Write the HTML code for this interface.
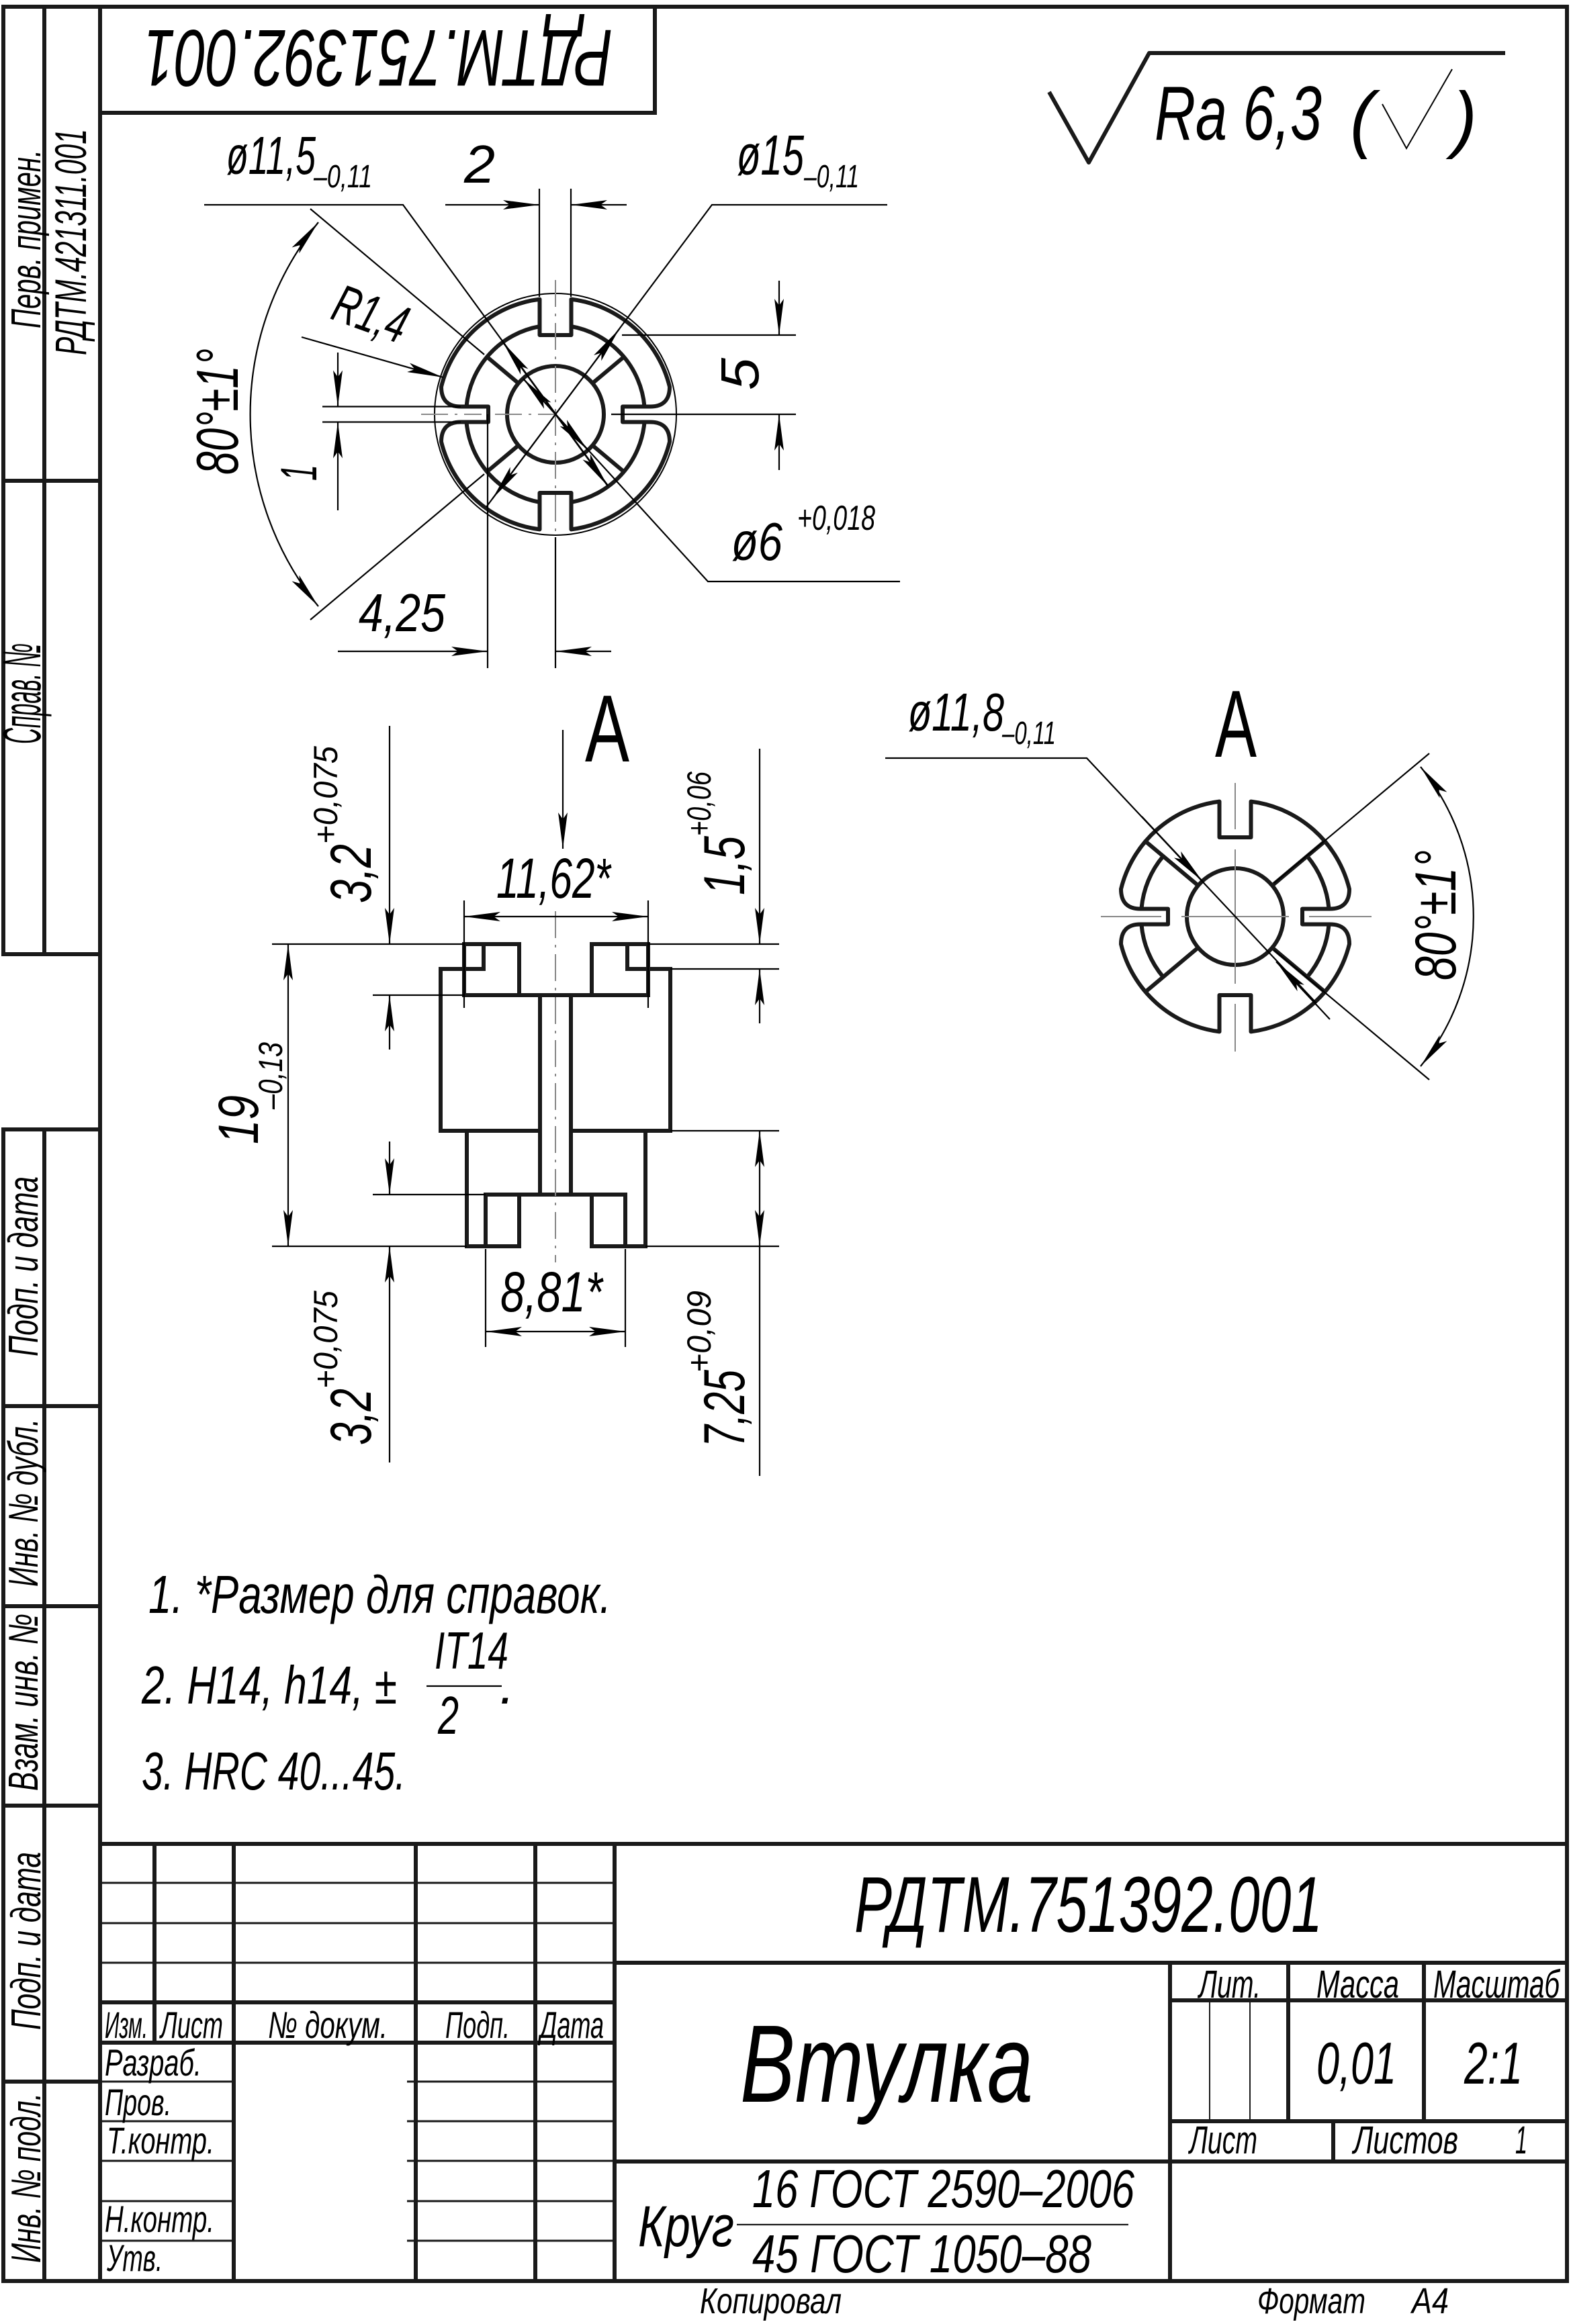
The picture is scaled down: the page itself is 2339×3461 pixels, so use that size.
<!DOCTYPE html>
<html><head><meta charset="utf-8"><style>
html,body{margin:0;padding:0;background:#fff}
svg{display:block}
text{font-family:"Liberation Sans","DejaVu Sans",sans-serif;font-style:italic;fill:#000}
.up{font-style:normal}
</style></head><body>
<svg xmlns="http://www.w3.org/2000/svg" width="2339" height="3461" viewBox="0 0 2339 3461">
<defs>
<marker id="ar" markerUnits="userSpaceOnUse" markerWidth="56" markerHeight="18" refX="54" refY="9" orient="auto-start-reverse">
<path d="M0,2 L54,9 L0,16 L10,9 Z" fill="#000"/>
</marker>
<g id="outer">
<path d="M23.5,-171.4 A173 173 0 0 1 170,-41 Q170,-11.5 141,-11.5 L100,-11.5 L100,11.5 L141,11.5 Q170,11.5 170,41 A173 173 0 0 1 23.5,171.4 L23.5,117 L-23.5,117 L-23.5,171.4 A173 173 0 0 1 -170,41 Q-170,11.5 -141,11.5 L-100,11.5 L-100,-11.5 L-141,-11.5 Q-170,-11.5 -170,-41 A173 173 0 0 1 -23.5,-171.4 L-23.5,-118 L23.5,-118 Z" fill="none" stroke="#1a1a1a" stroke-width="6" stroke-linejoin="round"/>
<circle cx="0" cy="0" r="72" fill="none" stroke="#1a1a1a" stroke-width="6"/>
</g>
</defs>

<g stroke="#1a1a1a" stroke-width="6" fill="none" stroke-linecap="square">
<line x1="149" y1="10" x2="2333" y2="10"/>
<line x1="2333" y1="10" x2="2333" y2="3397"/>
<line x1="5" y1="3397" x2="2333" y2="3397"/>
<line x1="149" y1="10" x2="149" y2="3397"/>
<line x1="5" y1="10" x2="149" y2="10"/>
<line x1="5" y1="10" x2="5" y2="1421"/>
<line x1="66" y1="10" x2="66" y2="1421"/>
<line x1="5" y1="716" x2="149" y2="716"/>
<line x1="5" y1="1421" x2="149" y2="1421"/>
<line x1="5" y1="1682" x2="149" y2="1682"/>
<line x1="5" y1="1682" x2="5" y2="3397"/>
<line x1="66" y1="1682" x2="66" y2="3397"/>
<line x1="5" y1="2094" x2="149" y2="2094"/>
<line x1="5" y1="2392" x2="149" y2="2392"/>
<line x1="5" y1="2689" x2="149" y2="2689"/>
<line x1="5" y1="3100" x2="149" y2="3100"/>
<line x1="975" y1="10" x2="975" y2="168"/>
<line x1="149" y1="168" x2="975" y2="168"/>
</g>
<text transform="translate(60,489) rotate(-90)" font-size="62" textLength="266" lengthAdjust="spacingAndGlyphs">Перв. примен.</text>
<text transform="translate(128,529) rotate(-90)" font-size="66" textLength="337" lengthAdjust="spacingAndGlyphs">РДТМ.421311.001</text>
<text transform="translate(60,1108) rotate(-90)" font-size="80" textLength="150" lengthAdjust="spacingAndGlyphs">Справ. №</text>
<text transform="translate(56,2020) rotate(-90)" font-size="62" textLength="268" lengthAdjust="spacingAndGlyphs">Подп. и дата</text>
<text transform="translate(56,2363) rotate(-90)" font-size="62" textLength="250" lengthAdjust="spacingAndGlyphs">Инв. № дубл.</text>
<text transform="translate(56,2667) rotate(-90)" font-size="62" textLength="264" lengthAdjust="spacingAndGlyphs">Взам. инв. №</text>
<text transform="translate(60,3023) rotate(-90)" font-size="62" textLength="265" lengthAdjust="spacingAndGlyphs">Подп. и дата</text>
<text transform="translate(60,3370) rotate(-90)" font-size="62" textLength="253" lengthAdjust="spacingAndGlyphs">Инв. № подл.</text>
<text transform="rotate(180,563,88)" x="214" y="131" font-size="120" textLength="698" lengthAdjust="spacingAndGlyphs">РДТМ.751392.001</text>

<polyline points="1562,137 1621,242 1711,79 2241,79" fill="none" stroke="#1a1a1a" stroke-width="6" stroke-linejoin="round"/>
<text x="1719" y="208" font-size="114" textLength="249" lengthAdjust="spacingAndGlyphs">Ra 6,3</text>
<text x="2010" y="214" font-size="110" textLength="36" lengthAdjust="spacingAndGlyphs">(</text>
<polyline points="2058,155 2094,221 2162,103" fill="none" stroke="#000" stroke-width="2"/>
<text x="2163" y="214" font-size="110" textLength="36" lengthAdjust="spacingAndGlyphs">)</text>

<g transform="translate(827,617)">
<circle r="180" fill="none" stroke="#000" stroke-width="2"/>
<use href="#outer"/>
<g fill="none" stroke="#1a1a1a" stroke-width="6">
<path d="M23.1,-131 A133 133 0 0 1 132.5,-11.6 M132.5,11.6 A133 133 0 0 1 23.1,131 M-23.1,131 A133 133 0 0 1 -132.5,11.6 M-132.5,-11.6 A133 133 0 0 1 -23.1,-131"/>
<path d="M55.2,-46.3 L101.9,-85.5 M55.2,46.3 L101.9,85.5 M-55.2,46.3 L-101.9,85.5 M-55.2,-46.3 L-101.9,-85.5"/>
</g>
<g stroke="#888" stroke-width="2" stroke-dasharray="40,10,4,10">
<line x1="-200" y1="0" x2="-110" y2="0"/><line x1="-90" y1="0" x2="0" y2="0"/>
<line x1="0" y1="-200" x2="0" y2="190"/>
</g>
</g>
<g stroke="#000" stroke-width="2.2" fill="none">
<polyline points="304,305 600,305 905,723"/>
<line x1="827" y1="617" x2="749" y2="510" marker-end="url(#ar)"/>
<line x1="827" y1="617" x2="905" y2="724" marker-end="url(#ar)"/>
<line x1="663" y1="305" x2="803" y2="305" marker-end="url(#ar)"/>
<line x1="933" y1="305" x2="850" y2="305" marker-end="url(#ar)"/>
<line x1="803" y1="281" x2="803" y2="442"/>
<line x1="850" y1="281" x2="850" y2="442"/>
<polyline points="1321,305 1060,305 724,755"/>
<line x1="827" y1="617" x2="922" y2="490" marker-end="url(#ar)"/>
<line x1="827" y1="617" x2="733" y2="743" marker-end="url(#ar)"/>
<line x1="1160" y1="418" x2="1160" y2="499" marker-end="url(#ar)"/>
<line x1="1160" y1="700" x2="1160" y2="617" marker-end="url(#ar)"/>
<line x1="926" y1="499" x2="1185" y2="499"/>
<line x1="910" y1="617" x2="1185" y2="617"/>
<polyline points="1340,866 1054,866 779,564"/>
<line x1="827" y1="617" x2="875" y2="670" marker-end="url(#ar)"/>
<line x1="827" y1="617" x2="779" y2="564" marker-end="url(#ar)"/>
<line x1="503" y1="525" x2="503" y2="605.5" marker-end="url(#ar)"/>
<line x1="503" y1="760" x2="503" y2="628.5" marker-end="url(#ar)"/>
<line x1="480" y1="605.5" x2="686" y2="605.5"/>
<line x1="480" y1="628.5" x2="686" y2="628.5"/>
<line x1="449" y1="502" x2="660" y2="562" marker-end="url(#ar)"/>
<line x1="503" y1="970" x2="726" y2="970" marker-end="url(#ar)"/>
<line x1="910" y1="970" x2="827" y2="970" marker-end="url(#ar)"/>
<line x1="726" y1="617" x2="726" y2="995"/>
<line x1="827" y1="800" x2="827" y2="995"/>
<line x1="462" y1="311" x2="721" y2="528"/>
<line x1="462" y1="923" x2="721" y2="706"/>
<path d="M474,331 A454 454 0 0 0 474,903" marker-start="url(#ar)" marker-end="url(#ar)"/>
</g>
<text x="337" y="259" font-size="80" textLength="133" lengthAdjust="spacingAndGlyphs">ø11,5</text>
<text x="467" y="279" font-size="48" textLength="87" lengthAdjust="spacingAndGlyphs">–0,11</text>
<text x="691" y="272" font-size="80" textLength="46" lengthAdjust="spacingAndGlyphs">2</text>
<text x="1097" y="260" font-size="84" textLength="100" lengthAdjust="spacingAndGlyphs">ø15</text>
<text x="1197" y="279" font-size="48" textLength="82" lengthAdjust="spacingAndGlyphs">–0,11</text>
<text transform="translate(1129,581) rotate(-90)" font-size="80" textLength="48" lengthAdjust="spacingAndGlyphs">5</text>
<text x="1089" y="834" font-size="80" textLength="76" lengthAdjust="spacingAndGlyphs">ø6</text>
<text x="1187" y="789" font-size="52" textLength="116" lengthAdjust="spacingAndGlyphs">+0,018</text>
<text x="534" y="940" font-size="80" textLength="129" lengthAdjust="spacingAndGlyphs">4,25</text>
<text transform="translate(354,707) rotate(-90)" font-size="88" textLength="188" lengthAdjust="spacingAndGlyphs">80°±1°</text>
<text transform="translate(471,716) rotate(-90)" font-size="76" textLength="24" lengthAdjust="spacingAndGlyphs">1</text>
<text transform="translate(490,474) rotate(20)" font-size="80" textLength="112" lengthAdjust="spacingAndGlyphs">R1,4</text>

<line x1="838" y1="1087" x2="838" y2="1264" stroke="#000" stroke-width="2.2" marker-end="url(#ar)"/>
<text class="up" x="871" y="1134" font-size="142" textLength="66" lengthAdjust="spacingAndGlyphs">A</text>

<g fill="none" stroke="#1a1a1a" stroke-width="6" stroke-linejoin="miter" stroke-linecap="square">
<polyline points="691,1443 656,1443 656,1684 804,1684"/>
<polyline points="965,1443 998,1443 998,1684 850,1684"/>
<rect x="691" y="1406" width="82" height="76"/>
<rect x="881" y="1406" width="84" height="76"/>
<polyline points="720,1406 720,1443 691,1443"/>
<polyline points="934,1406 934,1443 965,1443"/>
<line x1="691" y1="1482" x2="965" y2="1482"/>
<line x1="804" y1="1482" x2="804" y2="1779"/>
<line x1="850" y1="1482" x2="850" y2="1779"/>
<polyline points="695,1684 695,1856 773,1856"/>
<polyline points="961,1684 961,1856 881,1856"/>
<rect x="723" y="1779" width="50" height="77"/>
<rect x="881" y="1779" width="50" height="77"/>
<line x1="723" y1="1779" x2="931" y2="1779"/>
</g>
<line x1="827" y1="1357" x2="827" y2="1880" stroke="#888" stroke-width="2" stroke-dasharray="40,10,4,10"/>
<g stroke="#000" stroke-width="2.2" fill="none">
<line x1="691" y1="1341" x2="691" y2="1501"/>
<line x1="965" y1="1341" x2="965" y2="1501"/>
<line x1="691" y1="1365" x2="965" y2="1365" marker-start="url(#ar)" marker-end="url(#ar)"/>
<line x1="723" y1="1860" x2="723" y2="2006"/>
<line x1="931" y1="1860" x2="931" y2="2006"/>
<line x1="723" y1="1983" x2="931" y2="1983" marker-start="url(#ar)" marker-end="url(#ar)"/>
<line x1="580" y1="1081" x2="580" y2="1406" marker-end="url(#ar)"/>
<line x1="580" y1="1563" x2="580" y2="1482" marker-end="url(#ar)"/>
<line x1="555" y1="1482" x2="691" y2="1482"/>
<line x1="405" y1="1406" x2="691" y2="1406"/>
<line x1="405" y1="1856" x2="695" y2="1856"/>
<line x1="429" y1="1406" x2="429" y2="1856" marker-start="url(#ar)" marker-end="url(#ar)"/>
<line x1="580" y1="1700" x2="580" y2="1779" marker-end="url(#ar)"/>
<line x1="580" y1="2178" x2="580" y2="1856" marker-end="url(#ar)"/>
<line x1="555" y1="1779" x2="723" y2="1779"/>
<line x1="965" y1="1406" x2="1160" y2="1406"/>
<line x1="998" y1="1443" x2="1160" y2="1443"/>
<line x1="1131" y1="1115" x2="1131" y2="1406" marker-end="url(#ar)"/>
<line x1="1131" y1="1524" x2="1131" y2="1443" marker-end="url(#ar)"/>
<line x1="998" y1="1684" x2="1160" y2="1684"/>
<line x1="961" y1="1856" x2="1160" y2="1856"/>
<line x1="1131" y1="1684" x2="1131" y2="1856" marker-start="url(#ar)" marker-end="url(#ar)"/>
<line x1="1131" y1="1856" x2="1131" y2="2198"/>
</g>
<text x="739" y="1337" font-size="84" textLength="170" lengthAdjust="spacingAndGlyphs">11,62*</text>
<text x="745" y="1953" font-size="84" textLength="152" lengthAdjust="spacingAndGlyphs">8,81*</text>
<text transform="translate(552,1345) rotate(-90)" font-size="86" textLength="88" lengthAdjust="spacingAndGlyphs">3,2</text>
<text transform="translate(502,1257) rotate(-90)" font-size="50" textLength="146" lengthAdjust="spacingAndGlyphs">+0,075</text>
<text transform="translate(552,2152) rotate(-90)" font-size="86" textLength="84" lengthAdjust="spacingAndGlyphs">3,2</text>
<text transform="translate(502,2068) rotate(-90)" font-size="50" textLength="146" lengthAdjust="spacingAndGlyphs">+0,075</text>
<text transform="translate(384,1704) rotate(-90)" font-size="84" textLength="73" lengthAdjust="spacingAndGlyphs">19</text>
<text transform="translate(420,1652) rotate(-90)" font-size="50" textLength="100" lengthAdjust="spacingAndGlyphs">–0,13</text>
<text transform="translate(1108,1333) rotate(-90)" font-size="86" textLength="88" lengthAdjust="spacingAndGlyphs">1,5</text>
<text transform="translate(1058,1245) rotate(-90)" font-size="50" textLength="96" lengthAdjust="spacingAndGlyphs">+0,06</text>
<text transform="translate(1108,2155) rotate(-90)" font-size="86" textLength="115" lengthAdjust="spacingAndGlyphs">7,25</text>
<text transform="translate(1058,2044) rotate(-90)" font-size="50" textLength="122" lengthAdjust="spacingAndGlyphs">+0,09</text>

<text class="up" x="1809" y="1127" font-size="142" textLength="62" lengthAdjust="spacingAndGlyphs">A</text>
<g transform="translate(1839,1365)">
<use href="#outer"/>
<g fill="none" stroke="#1a1a1a" stroke-width="6">
<path d="M107.2,-90 A140 140 0 0 1 139.5,-12.2 M139.5,12.2 A140 140 0 0 1 107.2,90 M-107.2,90 A140 140 0 0 1 -139.5,12.2 M-139.5,-12.2 A140 140 0 0 1 -107.2,-90"/>
<path d="M55.2,-46.3 L132.5,-111.2 M55.2,46.3 L132.5,111.2 M-55.2,46.3 L-132.5,111.2 M-55.2,-46.3 L-132.5,-111.2"/>
</g>
<g stroke="#888" stroke-width="2">
<line x1="-200" y1="0" x2="-110" y2="0"/><line x1="-80" y1="0" x2="80" y2="0"/><line x1="110" y1="0" x2="203" y2="0"/>
<line x1="0" y1="-199" x2="0" y2="-130"/><line x1="0" y1="-100" x2="0" y2="100"/><line x1="0" y1="130" x2="0" y2="201"/>
</g>
</g>
<g stroke="#000" stroke-width="2.2" fill="none">
<polyline points="1318,1129 1618,1129 1960,1494"/>
<line x1="1700" y1="1216" x2="1790" y2="1312" marker-end="url(#ar)"/>
<line x1="1980" y1="1518" x2="1900" y2="1432" marker-end="url(#ar)"/>
<line x1="1897" y1="1315" x2="2128" y2="1122"/>
<line x1="1897" y1="1415" x2="2128" y2="1608"/>
<path d="M2115,1142 A355 355 0 0 1 2115,1588" marker-start="url(#ar)" marker-end="url(#ar)"/>
</g>
<text x="1352" y="1088" font-size="80" textLength="143" lengthAdjust="spacingAndGlyphs">ø11,8</text>
<text x="1492" y="1108" font-size="48" textLength="80" lengthAdjust="spacingAndGlyphs">–0,11</text>
<text transform="translate(2167,1460) rotate(-90)" font-size="86" textLength="194" lengthAdjust="spacingAndGlyphs">80°±1°</text>

<text x="221" y="2402" font-size="80" textLength="689" lengthAdjust="spacingAndGlyphs">1.  *Размер для справок.</text>
<text x="211" y="2537" font-size="80" textLength="380" lengthAdjust="spacingAndGlyphs">2. H14, h14, ±</text>
<text x="647" y="2485" font-size="78" textLength="110" lengthAdjust="spacingAndGlyphs">IT14</text>
<line x1="635" y1="2511" x2="747" y2="2511" stroke="#000" stroke-width="2.2"/>
<text x="652" y="2582" font-size="80" textLength="31" lengthAdjust="spacingAndGlyphs">2</text>
<text x="744" y="2537" font-size="80">.</text>
<text x="211" y="2665" font-size="80" textLength="393" lengthAdjust="spacingAndGlyphs">3. HRC 40...45.</text>

<g stroke="#1a1a1a" stroke-width="6" fill="none" stroke-linecap="square">
<line x1="149" y1="2746" x2="2333" y2="2746"/>
<line x1="230" y1="2746" x2="230" y2="3042"/>
<line x1="348" y1="2746" x2="348" y2="3397"/>
<line x1="619" y1="2746" x2="619" y2="3397"/>
<line x1="797" y1="2746" x2="797" y2="3397"/>
<line x1="915" y1="2746" x2="915" y2="3397"/>
<line x1="149" y1="2982" x2="915" y2="2982"/>
<line x1="149" y1="3042" x2="915" y2="3042"/>
<line x1="915" y1="2923" x2="2333" y2="2923"/>
<line x1="915" y1="3219" x2="2333" y2="3219"/>
<line x1="1742" y1="2923" x2="1742" y2="3397"/>
<line x1="1918" y1="2923" x2="1918" y2="3159"/>
<line x1="2120" y1="2923" x2="2120" y2="3159"/>
<line x1="1742" y1="2979" x2="2333" y2="2979"/>
<line x1="1742" y1="3159" x2="2333" y2="3159"/>
<line x1="1985" y1="3159" x2="1985" y2="3219"/>
</g>
<g stroke="#1a1a1a" stroke-width="3" fill="none">
<line x1="149" y1="2804" x2="915" y2="2804"/>
<line x1="149" y1="2864" x2="915" y2="2864"/>
<line x1="149" y1="2923" x2="915" y2="2923"/>
<line x1="149" y1="3100" x2="348" y2="3100"/><line x1="606" y1="3100" x2="915" y2="3100"/>
<line x1="149" y1="3159" x2="348" y2="3159"/><line x1="606" y1="3159" x2="915" y2="3159"/>
<line x1="149" y1="3218" x2="348" y2="3218"/><line x1="606" y1="3218" x2="915" y2="3218"/>
<line x1="149" y1="3278" x2="348" y2="3278"/><line x1="606" y1="3278" x2="915" y2="3278"/>
<line x1="149" y1="3337" x2="348" y2="3337"/><line x1="606" y1="3337" x2="915" y2="3337"/>
<line x1="1801" y1="2979" x2="1801" y2="3159" stroke-width="2"/>
<line x1="1861" y1="2979" x2="1861" y2="3159" stroke-width="2"/>
<line x1="1097" y1="3313" x2="1680" y2="3313" stroke-width="2.2"/>
</g>
<rect x="352" y="3046" width="250" height="348" fill="#fff"/>
<line x1="348" y1="3042" x2="348" y2="3397" stroke="#1a1a1a" stroke-width="6"/>
<text x="156" y="3035" font-size="56" textLength="64" lengthAdjust="spacingAndGlyphs">Изм.</text>
<text x="239" y="3035" font-size="56" textLength="93" lengthAdjust="spacingAndGlyphs">Лист</text>
<text x="399" y="3035" font-size="56" textLength="178" lengthAdjust="spacingAndGlyphs">№ докум.</text>
<text x="663" y="3035" font-size="56" textLength="96" lengthAdjust="spacingAndGlyphs">Подп.</text>
<text x="804" y="3035" font-size="56" textLength="95" lengthAdjust="spacingAndGlyphs">Дата</text>
<text x="156" y="3091" font-size="56" textLength="144" lengthAdjust="spacingAndGlyphs">Разраб.</text>
<text x="156" y="3150" font-size="56" textLength="99" lengthAdjust="spacingAndGlyphs">Пров.</text>
<text x="159" y="3207" font-size="56" textLength="160" lengthAdjust="spacingAndGlyphs">Т.контр.</text>
<text x="156" y="3324" font-size="56" textLength="163" lengthAdjust="spacingAndGlyphs">Н.контр.</text>
<text x="159" y="3382" font-size="56" textLength="83" lengthAdjust="spacingAndGlyphs">Утв.</text>
<text x="1272" y="2877" font-size="118" textLength="697" lengthAdjust="spacingAndGlyphs">РДТМ.751392.001</text>
<text x="1102" y="3130" font-size="164" textLength="436" lengthAdjust="spacingAndGlyphs">Втулка</text>
<text x="1785" y="2975" font-size="58" textLength="92" lengthAdjust="spacingAndGlyphs">Лит.</text>
<text x="1960" y="2975" font-size="58" textLength="123" lengthAdjust="spacingAndGlyphs">Масса</text>
<text x="2134" y="2975" font-size="58" textLength="188" lengthAdjust="spacingAndGlyphs">Масштаб</text>
<text x="1960" y="3103" font-size="88" textLength="119" lengthAdjust="spacingAndGlyphs">0,01</text>
<text x="2180" y="3103" font-size="88" textLength="87" lengthAdjust="spacingAndGlyphs">2:1</text>
<text x="1771" y="3207" font-size="58" textLength="101" lengthAdjust="spacingAndGlyphs">Лист</text>
<text x="2015" y="3207" font-size="58" textLength="156" lengthAdjust="spacingAndGlyphs">Листов</text>
<text x="2256" y="3207" font-size="58" textLength="18" lengthAdjust="spacingAndGlyphs">1</text>
<text x="950" y="3345" font-size="86" textLength="143" lengthAdjust="spacingAndGlyphs">Круг</text>
<text x="1120" y="3287" font-size="80" textLength="569" lengthAdjust="spacingAndGlyphs">16 ГОСТ 2590–2006</text>
<text x="1120" y="3384" font-size="80" textLength="505" lengthAdjust="spacingAndGlyphs">45 ГОСТ 1050–88</text>
<text x="1042" y="3445" font-size="54" textLength="211" lengthAdjust="spacingAndGlyphs">Копировал</text>
<text x="1872" y="3445" font-size="54" textLength="161" lengthAdjust="spacingAndGlyphs">Формат</text>
<text x="2102" y="3445" font-size="54" textLength="55" lengthAdjust="spacingAndGlyphs">А4</text>
</svg>
</body></html>
